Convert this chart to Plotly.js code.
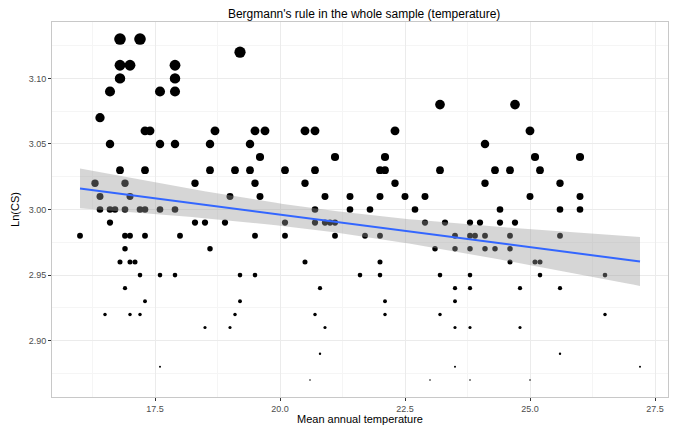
<!DOCTYPE html>
<html>
<head>
<meta charset="utf-8">
<script src="https://cdn.plot.ly/plotly-3.0.1.min.js"></script>
<style>html,body{margin:0;padding:0;background:#fff;}#chart{width:678px;height:425px;}</style>
</head>
<body>
<div id="chart"></div>
<script>
// Data: mean annual temperature (x) grouped by Ln(CS) value (y)
const lnCSLevels = [3.13, 3.12, 3.11, 3.10, 3.09, 3.08, 3.07, 3.06, 3.05, 3.04, 3.03, 3.02, 3.01, 3.00,
                    2.99, 2.98, 2.97, 2.96, 2.95, 2.94, 2.93, 2.92, 2.91, 2.89, 2.88, 2.87];
const temps_313 = [16.8, 17.2];
const temps_312 = [19.2];
const temps_311 = [16.8, 17.0, 17.9];
const temps_310 = [16.8, 17.9];
const temps_309 = [16.6, 17.6, 17.9];
const temps_308 = [23.2, 24.7];
const temps_307 = [16.4];
const temps_306 = [17.3, 17.4, 18.7, 19.5, 19.7, 20.5, 20.7, 22.3, 25.0];
const temps_305 = [16.6, 17.6, 17.9, 18.6, 19.4, 24.1];
const temps_304 = [19.6, 21.1, 22.1, 25.1, 26.0];
const temps_303 = [16.8, 17.3, 18.6, 19.1, 19.4, 20.1, 20.7, 22.0, 22.1, 23.2, 24.3, 24.6, 25.2];
const temps_302 = [16.3, 16.9, 18.3, 19.5, 20.5, 22.3, 24.1, 25.6];
const temps_301 = [16.4, 17.0, 19.0, 19.6, 20.9, 21.4, 22.0, 22.5, 22.9, 25.0, 26.0];
const temps_300 = [16.4, 16.6, 16.7, 16.9, 17.2, 17.3, 17.6, 17.9, 20.7, 21.4, 21.8, 22.7, 24.4, 25.6, 26.0];
const temps_299 = [16.6, 18.3, 18.5, 18.9, 20.1, 20.7, 20.9, 21.0, 21.1, 22.9, 23.3, 23.8, 24.0, 24.4, 24.7];
const temps_298 = [16.0, 16.9, 17.0, 17.3, 18.0, 19.5, 20.1, 21.1, 21.7, 22.0, 23.5, 23.8, 23.9, 24.1, 24.6, 25.6];
const temps_297 = [16.9, 18.6, 23.1, 23.5, 23.8, 24.1, 24.3, 24.6];
const temps_296 = [16.8, 17.0, 17.1, 20.5, 22.0, 24.6, 25.1, 25.2];
const temps_295 = [17.2, 17.6, 17.9, 19.2, 19.5, 21.6, 22.0, 23.2, 23.8, 25.2, 26.5];
const temps_294 = [16.9, 20.8, 23.5, 23.8, 24.8, 25.6];
const temps_293 = [17.3, 19.2, 22.1, 23.5];
const temps_292 = [16.5, 17.0, 17.2, 19.1, 20.7, 22.1, 23.2, 26.5];
const temps_291 = [18.5, 19.0, 20.9, 23.5, 23.8, 24.8];
const temps_289 = [20.8, 25.6];
const temps_288 = [17.6, 23.5, 27.2];
const temps_287 = [20.6, 23.0, 23.8, 25.0];

const tempGroups = [temps_313, temps_312, temps_311, temps_310, temps_309, temps_308, temps_307, temps_306,
  temps_305, temps_304, temps_303, temps_302, temps_301, temps_300, temps_299, temps_298, temps_297,
  temps_296, temps_295, temps_294, temps_293, temps_292, temps_291, temps_289, temps_288, temps_287];

const xTickVals = [17.5, 20.0, 22.5, 25.0, 27.5];
const yTickVals = [2.90, 2.95, 3.00, 3.05, 3.10];

// flatten
const xs = [], ys = [];
tempGroups.forEach((g, i) => g.forEach(t => { xs.push(t); ys.push(lnCSLevels[i]); }));

// marker size mapped from Ln(CS)
const yMin = Math.min(...ys), yMax = Math.max(...ys);
const sizes = ys.map(v => 1.6 + 10 * (v - yMin) / (yMax - yMin));

// OLS fit with 95% confidence band
const n = xs.length;
const mx = xs.reduce((a, b) => a + b, 0) / n;
const my = ys.reduce((a, b) => a + b, 0) / n;
let sxx = 0, sxy = 0;
for (let i = 0; i < n; i++) { sxx += (xs[i] - mx) ** 2; sxy += (xs[i] - mx) * (ys[i] - my); }
const slope = sxy / sxx, icpt = my - slope * mx;
let sse = 0;
for (let i = 0; i < n; i++) sse += (ys[i] - icpt - slope * xs[i]) ** 2;
const s = Math.sqrt(sse / (n - 2));
const tq = 1.974;
const xMin = Math.min(...xs), xMax = Math.max(...xs);
const fx = [], fy = [], lo = [], hi = [];
for (let k = 0; k <= 80; k++) {
  const x = xMin + (xMax - xMin) * k / 80;
  const yhat = icpt + slope * x;
  const se = s * Math.sqrt(1 / n + (x - mx) ** 2 / sxx);
  fx.push(x); fy.push(yhat); lo.push(yhat - tq * se); hi.push(yhat + tq * se);
}

const traces = [
  { type: 'scatter', mode: 'markers', x: xs, y: ys, hoverinfo: 'skip',
    marker: { color: '#000000', opacity: 1, size: sizes, line: { width: 0 } } },
  { type: 'scatter', mode: 'lines', x: fx, y: lo, hoverinfo: 'skip', line: { width: 0, color: 'rgba(0,0,0,0)' } },
  { type: 'scatter', mode: 'lines', x: fx, y: hi, hoverinfo: 'skip', fill: 'tonexty',
    fillcolor: 'rgba(153,153,153,0.4)', line: { width: 0, color: 'rgba(0,0,0,0)' } },
  { type: 'scatter', mode: 'lines', x: fx, y: fy, hoverinfo: 'skip', line: { color: '#3366FF', width: 2 } }
];

const axisCommon = {
  showline: true, mirror: true, linecolor: '#c8c8c8', linewidth: 1,
  ticks: 'outside', ticklen: 3, tickcolor: '#333333', tickwidth: 1,
  gridcolor: '#ebebeb', gridwidth: 1, zeroline: false,
  tickfont: { family: 'Liberation Sans, Arial, sans-serif', size: 9, color: '#4d4d4d' }
};

const layout = {
  width: 678, height: 425,
  margin: { l: 52, r: 10, t: 22, b: 28, pad: 0 },
  paper_bgcolor: '#ffffff', plot_bgcolor: '#ffffff',
  showlegend: false,
  font: { family: 'Liberation Sans, Arial, sans-serif', color: '#000000' },
  title: { text: "Bergmann's rule in the whole sample (temperature)", x: 0.537, xanchor: 'center',
           y: 0.967, yref: 'container', yanchor: 'middle',
           font: { size: 12, color: '#000000', family: 'Liberation Sans, Arial, sans-serif' } },
  xaxis: Object.assign({}, axisCommon, {
    range: [15.44, 27.76], tickvals: xTickVals, ticktext: xTickVals.map(v => v.toFixed(1)),
    minor: { tickvals: [16.25, 18.75, 21.25, 23.75, 26.25], showgrid: true, gridcolor: '#f5f5f5', ticks: '' },
    title: { text: 'Mean annual temperature', standoff: 0,
             font: { size: 11, color: '#000000', family: 'Liberation Sans, Arial, sans-serif' } },
    automargin: false
  }),
  yaxis: Object.assign({}, axisCommon, {
    range: [2.857, 3.143], tickvals: yTickVals, ticktext: yTickVals.map(v => v.toFixed(2)),
    minor: { tickvals: [2.875, 2.925, 2.975, 3.025, 3.075, 3.125], showgrid: true, gridcolor: '#f5f5f5', ticks: '' },
    title: { text: 'Ln(CS)', standoff: 6,
             font: { size: 11, color: '#000000', family: 'Liberation Sans, Arial, sans-serif' } },
    automargin: false
  })
};

Plotly.newPlot('chart', traces, layout, { displayModeBar: false, staticPlot: true });
</script>
</body>
</html>
